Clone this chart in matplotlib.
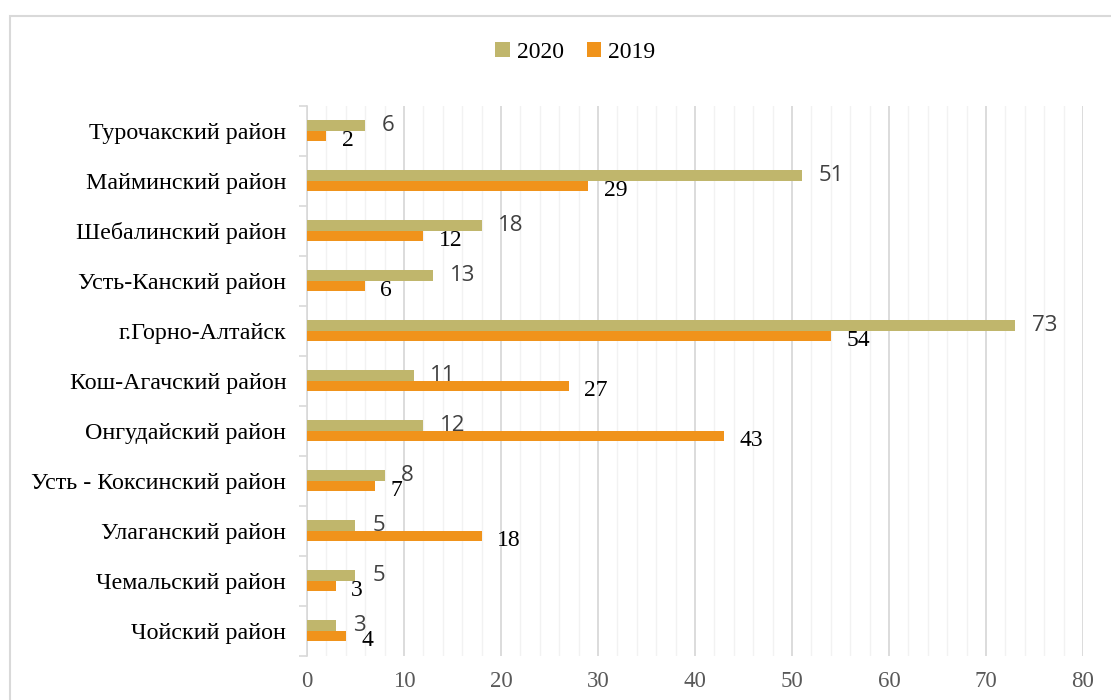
import matplotlib.pyplot as plt
from matplotlib.patches import Rectangle
import numpy as np

# Данные (снизу вверх, как на диаграмме)
districts = ['Чойский район', 'Чемальский район', 'Улаганский район',
             'Усть - Коксинский район', 'Онгудайский район', 'Кош-Агачский район',
             'г.Горно-Алтайск', 'Усть-Канский район', 'Шебалинский район',
             'Майминский район', 'Турочакский район']
values_2020 = [3, 5, 5, 8, 12, 11, 73, 13, 18, 51, 6]
values_2019 = [4, 3, 18, 7, 43, 27, 54, 6, 12, 29, 2]

color_2020 = '#C0B66C'
color_2019 = '#F0931B'
serif = ['Liberation Serif', 'DejaVu Serif']
sans = ['Open Sans', 'DejaVu Sans']

fig = plt.figure(figsize=(11.11, 7), dpi=100)
ax = fig.add_axes([0.2763, 0.0629, 0.6985, 0.7857])

# рамка вокруг диаграммы
fig.patches.append(Rectangle((10 / 1111, -0.05), 1.1, 1 - 16 / 700 + 0.05,
                             transform=fig.transFigure, fill=False,
                             edgecolor='#D9D9D9', linewidth=1.5))

y = np.arange(len(districts))
h = 0.21
b20 = ax.barh(y + h / 2, values_2020, height=h, color=color_2020, label='2020', zorder=3)
b19 = ax.barh(y - h / 2, values_2019, height=h, color=color_2019, label='2019', zorder=3)

for rect, v in zip(b20, values_2020):
    ax.annotate(str(v), (rect.get_width(), rect.get_y() + rect.get_height() / 2),
                xytext=(12, 0), textcoords='offset points', ha='left', va='center',
                fontsize=16, color='#404040', family=sans)
for rect, v in zip(b19, values_2019):
    ax.annotate(str(v), (rect.get_width(), rect.get_y() + rect.get_height() / 2),
                xytext=(11, -3), textcoords='offset points', ha='left', va='center',
                fontsize=17, color='black', family=serif)

ax.set_xlim(0, 80)
ax.set_ylim(-0.5, len(districts) - 0.5)
ax.set_xticks(np.arange(0, 81, 10))
ax.set_xticks(np.arange(0, 81, 2), minor=True)
ax.set_yticks(y)
ax.set_yticklabels(districts, family=serif, fontsize=17.3)
ax.set_yticks(np.arange(-0.5, len(districts), 1), minor=True)
for lbl in ax.get_xticklabels():
    lbl.set_family(serif)
ax.tick_params(axis='x', which='both', length=0, labelsize=16.5, labelcolor='#595959', pad=11)
ax.tick_params(axis='y', which='major', length=0, pad=15)
ax.tick_params(axis='y', which='minor', length=6, color='#D9D9D9', width=1.2)

ax.grid(axis='x', which='major', color='#D9D9D9', linewidth=1.3, zorder=0)
ax.grid(axis='x', which='minor', color='#F2F2F2', linewidth=1.0, zorder=0)
ax.set_axisbelow(True)
for s in ['top', 'right', 'bottom']:
    ax.spines[s].set_visible(False)
ax.spines['left'].set_color('#D9D9D9')
ax.spines['left'].set_linewidth(1.2)

fig.legend(handles=[b20, b19], loc='center', bbox_to_anchor=(0.518, 0.925), ncol=2,
           frameon=False, prop={'family': serif, 'size': 17}, handlelength=0.6,
           handleheight=0.6, handletextpad=0.3, columnspacing=1.0)

plt.savefig('out.png', dpi=100)
